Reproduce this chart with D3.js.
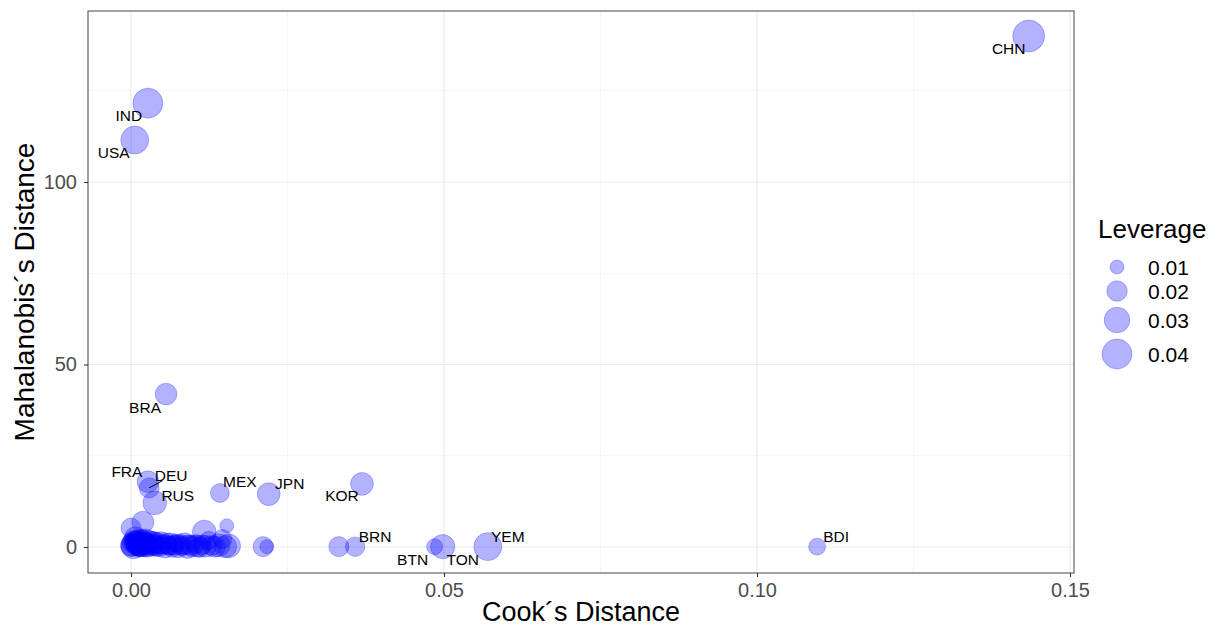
<!DOCTYPE html>
<html>
<head>
<meta charset="utf-8">
<script src="https://cdn.jsdelivr.net/npm/d3@7"></script>
<style>
  html, body { margin: 0; padding: 0; background: #fff; }
  svg { display: block; font-family: "Liberation Sans", Arial, Helvetica, sans-serif; }
</style>
</head>
<body>
<svg id="chart" width="1225" height="628"></svg>
<script>
// Countries that get a text label
const labeledCodes     = ["CHN", "IND", "USA", "BRA", "FRA", "DEU", "RUS", "MEX", "JPN", "KOR", "BRN", "BTN", "TON", "YEM", "BDI"];
const labeledCook      = [0.1434, 0.0027, 0.0006, 0.0056, 0.0027, 0.0029, 0.0038, 0.0142, 0.0220, 0.0369, 0.0358, 0.0485, 0.0498, 0.0570, 0.1096];
const labeledMaha      = [140.0, 121.6, 111.5, 41.9, 17.9, 16.2, 12.1, 14.8, 14.5, 17.3, 0.1, 0.1, 0.1, 0.1, 0.1];
const labeledLeverage  = [0.045, 0.040, 0.035, 0.022, 0.022, 0.019, 0.026, 0.017, 0.024, 0.024, 0.018, 0.0127, 0.027, 0.035, 0.014];

// Remaining countries (no label)
const otherCook = [0.0332, 0.0211, 0.0217, 0.0000, 0.0019, 0.0117, 0.0153,
  0.0000, 0.0001, 0.0002, 0.0003, 0.0004, 0.0005, 0.0006, 0.0007, 0.0008, 0.0009,
  0.0010, 0.0011, 0.0012, 0.0013, 0.0014, 0.0015, 0.0016, 0.0017, 0.0018, 0.0019,
  0.0020, 0.0021, 0.0022, 0.0023, 0.0024, 0.0025, 0.0026, 0.0028, 0.0030, 0.0032,
  0.0034, 0.0036, 0.0038, 0.0040, 0.0042, 0.0045, 0.0048, 0.0051, 0.0054, 0.0057,
  0.0060, 0.0063, 0.0066, 0.0069, 0.0072, 0.0075, 0.0078, 0.0082, 0.0086, 0.0090,
  0.0094, 0.0098, 0.0102, 0.0106, 0.0110, 0.0114, 0.0119, 0.0124, 0.0129, 0.0134,
  0.0140, 0.0146, 0.0151, 0.0156];
const otherMaha = [0.1, 0.1, 0.1, 5.2, 6.8, 4.1, 5.8,
  0.3, 1.2, 0.6, 2.0, 0.1, 1.5, 0.8, 2.6, 0.4, 1.1,
  0.2, 1.8, 0.7, 0.0, 1.4, 0.5, 2.2, 0.9, 0.3, 1.6,
  0.1, 1.0, 0.6, 1.9, 0.2, 1.3, 0.4, 0.8, 1.5, 0.2,
  1.1, 0.5, 1.7, 0.3, 0.9, 0.1, 1.2, 0.6, 0.2, 1.0,
  0.4, 0.8, 0.1, 0.5, 1.1, 0.2, 0.7, 0.3, 0.9, 0.1,
  0.5, 0.2, 0.8, 0.3, 0.0, 0.6, 0.2, 1.8, 0.4, 0.1,
  0.5, 2.2, 0.1, 0.3];
const otherLeverage = [0.019, 0.019, 0.010, 0.019, 0.0225, 0.026, 0.010,
  0.021, 0.018, 0.024, 0.016, 0.027, 0.020, 0.015, 0.022, 0.019, 0.025,
  0.017, 0.021, 0.023, 0.018, 0.020, 0.026, 0.017, 0.019, 0.022, 0.024,
  0.016, 0.021, 0.018, 0.023, 0.020, 0.017, 0.025, 0.019, 0.022, 0.018,
  0.024, 0.020, 0.016, 0.021, 0.023, 0.019, 0.022, 0.018, 0.025, 0.020,
  0.017, 0.023, 0.021, 0.019, 0.016, 0.024, 0.020, 0.018, 0.022, 0.025,
  0.019, 0.021, 0.017, 0.023, 0.020, 0.018, 0.022, 0.016, 0.019, 0.021,
  0.024, 0.017, 0.023, 0.026];

const xTicks = [0, 0.05, 0.10, 0.15];
const xMinorTicks = [0.025, 0.075, 0.125];
const yTicks = [0, 50, 100];
const yMinorTicks = [25, 75, 125];
const legendLevels = [0.01, 0.02, 0.03, 0.04];

// Label placement (pixel nudges away from each point)
const labelNudge = {
  CHN: [-20, 12], IND: [-19, 12], USA: [-21, 12], BRA: [-21, 13],
  FRA: [-21, -10], DEU: [22, -12], RUS: [23, -7], MEX: [20, -11],
  JPN: [21, -11], KOR: [-20, 12], BRN: [20, -10], BTN: [-22, 13],
  TON: [20, 13], YEM: [20, -10], BDI: [19, -10]
};
const labelSegments = { DEU: [13, -7] };

const svg = d3.select("#chart");
const panel = { left: 88, right: 1074, top: 11, bottom: 573 };

const x = d3.scaleLinear().domain([-0.00687, 0.15064]).range([panel.left, panel.right]);
const y = d3.scaleLinear().domain([-7.12, 146.85]).range([panel.bottom, panel.top]);
const r = d3.scaleSqrt().domain([0.01, 0.04]).range([7, 15]);

// Panel background
svg.append("rect").attr("x", panel.left).attr("y", panel.top)
  .attr("width", panel.right - panel.left).attr("height", panel.bottom - panel.top)
  .attr("fill", "#fff");

// Grid
const grid = svg.append("g");
grid.selectAll("line.xmin").data(xMinorTicks).join("line")
  .attr("x1", d => x(d)).attr("x2", d => x(d)).attr("y1", panel.top).attr("y2", panel.bottom)
  .attr("stroke", "#f2f2f2").attr("stroke-width", 0.8);
grid.selectAll("line.ymin").data(yMinorTicks).join("line")
  .attr("y1", d => y(d)).attr("y2", d => y(d)).attr("x1", panel.left).attr("x2", panel.right)
  .attr("stroke", "#f2f2f2").attr("stroke-width", 0.8);
grid.selectAll("line.xmaj").data(xTicks).join("line")
  .attr("x1", d => x(d)).attr("x2", d => x(d)).attr("y1", panel.top).attr("y2", panel.bottom)
  .attr("stroke", "#ebebeb").attr("stroke-width", 1.2);
grid.selectAll("line.ymaj").data(yTicks).join("line")
  .attr("y1", d => y(d)).attr("y2", d => y(d)).attr("x1", panel.left).attr("x2", panel.right)
  .attr("stroke", "#ebebeb").attr("stroke-width", 1.2);

// Points
const points = [];
otherCook.forEach((c, i) => points.push({ cook: c, maha: otherMaha[i], lev: otherLeverage[i] }));
labeledCodes.forEach((code, i) => points.push({ code, cook: labeledCook[i], maha: labeledMaha[i], lev: labeledLeverage[i] }));

svg.append("g").selectAll("circle").data(points).join("circle")
  .attr("cx", d => x(d.cook)).attr("cy", d => y(d.maha)).attr("r", d => r(d.lev))
  .attr("fill", "#0000ff").attr("fill-opacity", 0.3)
  .attr("stroke", "#0000ff").attr("stroke-opacity", 0.3).attr("stroke-width", 0.8);

// Labels
const labeled = points.filter(d => d.code);
svg.append("g").selectAll("line").data(labeled.filter(d => labelSegments[d.code])).join("line")
  .attr("x1", d => x(d.cook)).attr("y1", d => y(d.maha))
  .attr("x2", d => x(d.cook) + labelSegments[d.code][0]).attr("y2", d => y(d.maha) + labelSegments[d.code][1])
  .attr("stroke", "#000").attr("stroke-width", 1.1);
svg.append("g").selectAll("text").data(labeled).join("text")
  .attr("x", d => x(d.cook) + labelNudge[d.code][0])
  .attr("y", d => y(d.maha) + labelNudge[d.code][1])
  .attr("text-anchor", "middle").attr("dominant-baseline", "central")
  .attr("font-size", 15.5).attr("fill", "#000")
  .text(d => d.code);

// Panel border
svg.append("rect").attr("x", panel.left).attr("y", panel.top)
  .attr("width", panel.right - panel.left).attr("height", panel.bottom - panel.top)
  .attr("fill", "none").attr("stroke", "#555").attr("stroke-width", 1.1);

// Axes
const xAxis = svg.append("g").attr("transform", `translate(0,${panel.bottom})`)
  .call(d3.axisBottom(x).tickValues(xTicks).tickFormat(d3.format(".2f")).tickSize(4).tickPadding(6));
const yAxis = svg.append("g").attr("transform", `translate(${panel.left},0)`)
  .call(d3.axisLeft(y).tickValues(yTicks).tickFormat(d3.format("d")).tickSize(4).tickPadding(7));
[xAxis, yAxis].forEach(a => {
  a.select(".domain").remove();
  a.selectAll(".tick line").attr("stroke", "#333").attr("stroke-width", 1.1);
  a.selectAll(".tick text").attr("fill", "#4d4d4d").attr("font-size", 20)
    .attr("font-family", "Liberation Sans, Arial, sans-serif");
});

// Axis titles
svg.append("text").attr("x", (panel.left + panel.right) / 2).attr("y", 621)
  .attr("text-anchor", "middle").attr("font-size", 27).attr("fill", "#000")
  .text("Cook´s Distance");
svg.append("text").attr("transform", `translate(34,${(panel.top + panel.bottom) / 2}) rotate(-90)`)
  .attr("text-anchor", "middle").attr("font-size", 28).attr("fill", "#000")
  .text("Mahalanobis´s Distance");

// Legend
const legend = svg.append("g");
legend.append("text").attr("x", 1098).attr("y", 238).attr("font-size", 26).attr("fill", "#000").text("Leverage");
const legendY = [267, 291, 320, 354];
legend.selectAll("circle").data(legendLevels).join("circle")
  .attr("cx", 1117).attr("cy", (d, i) => legendY[i]).attr("r", d => r(d))
  .attr("fill", "#0000ff").attr("fill-opacity", 0.3)
  .attr("stroke", "#0000ff").attr("stroke-opacity", 0.3).attr("stroke-width", 0.8);
legend.selectAll("text.lab").data(legendLevels).join("text").attr("class", "lab")
  .attr("x", 1148).attr("y", (d, i) => legendY[i]).attr("dominant-baseline", "central")
  .attr("font-size", 21).attr("fill", "#000")
  .text(d => d3.format(".2f")(d));
</script>
</body>
</html>
